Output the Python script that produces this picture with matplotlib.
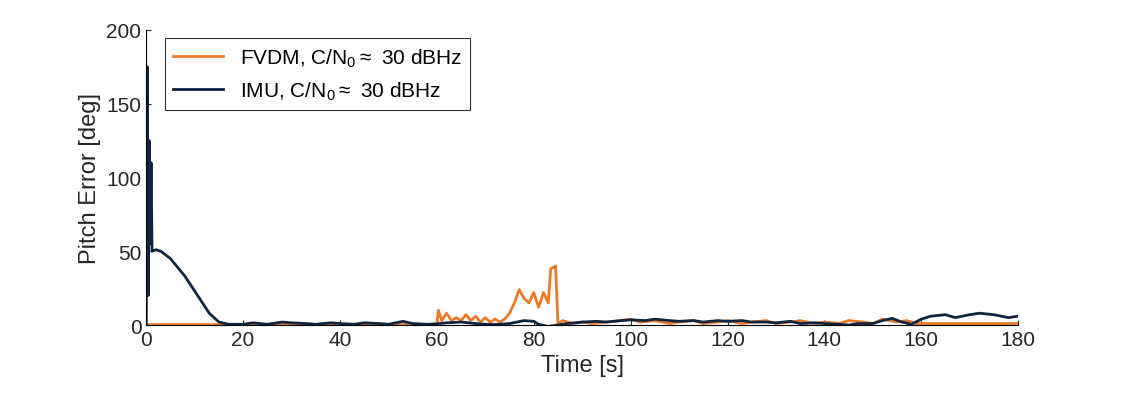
import matplotlib.pyplot as plt
import numpy as np

plt.rcParams['font.family'] = ['Liberation Sans', 'DejaVu Sans']
plt.rcParams['mathtext.fontset'] = 'custom'
plt.rcParams['mathtext.rm'] = 'Liberation Sans'

# IMU pitch error samples (time [s], error [deg])
imu_t = [0, 0.2, 0.4, 0.6, 0.8, 1.0, 1.2, 2, 3, 5, 8, 11, 13, 15, 17, 20, 22, 25, 28, 30,
         33, 35, 38, 40, 43, 45, 48, 50, 53, 55, 58, 60, 62, 65, 68, 70, 72, 75, 78, 80,
         81, 83, 85, 87, 90, 93, 95, 98, 100, 103, 105, 108, 110, 113, 115, 118, 120, 123,
         125, 128, 130, 133, 135, 138, 140, 143, 145, 147, 150, 152, 154, 156, 158, 160,
         162, 165, 167, 170, 172, 175, 178, 180]
imu_e = [0, 175, 20, 125, 55, 110, 50, 51, 50, 45, 33, 18, 8, 2, 0.5, 0.5, 1.5, 0.5, 2, 1.5,
         1, 0.5, 1.5, 1, 0.5, 1.5, 1, 0.5, 2.5, 1, 0.5, 0.8, 1.5, 2, 1, 0.5, 0.3, 1, 3, 2.5,
         0.5, -1, 0, 1, 2, 2.5, 2, 3, 3.5, 3, 4, 3, 2.5, 3, 2, 3, 2.5, 3,
         2, 2, 1.5, 2.5, 1, 1.5, 1, 0.5, 0, 1, 1, 3, 4.5, 2, 0.5, 4,
         6, 7, 5, 7, 8, 7, 5, 6]

# FVDM pitch error samples
fvdm_t = [0, 60, 60.3, 61, 62, 63, 64, 65, 66, 67, 68, 69, 70, 71, 72, 73, 74, 75, 76, 77,
          78, 79, 80, 81, 82, 83, 83.5, 84.5, 85, 86, 88, 90, 92, 95, 98, 100, 102, 105, 108,
          110, 113, 115, 118, 120, 123, 125, 128, 130, 133, 135, 138, 140, 143, 145, 148,
          150, 152, 155, 157, 159, 160, 180]
fvdm_e = [0.3, 0.3, 10, 3, 8, 3, 5, 3, 7, 3, 6, 2, 5, 2, 4, 2, 4, 8, 15, 24,
          18, 15, 22, 12, 22, 15, 38, 40, 1, 3, 1, 2, 1, 2, 3, 4, 2, 3, 1,
          2, 3, 1, 2, 3, 1, 2, 3, 1, 2, 3, 1, 2, 1, 3, 2,
          1, 4, 2, 3, 1, 1, 1]

fig = plt.figure(figsize=(11.25, 4.06), dpi=100)
ax = fig.add_axes([0.13, 0.197, 0.775, 0.727])
ax.plot(fvdm_t, fvdm_e, color='#EA7A28', linewidth=2, label=r'FVDM, C/N$_0\approx$ 30 dBHz')
ax.plot(imu_t, imu_e, color='#0E2541', linewidth=2, label=r'IMU, C/N$_0\approx$ 30 dBHz')

ax.set_xlim(0, 180)
ax.set_ylim(0, 200)
ax.set_xticks(np.arange(0, 181, 20))
ax.set_yticks(np.arange(0, 201, 50))
ax.tick_params(labelsize=15, direction='in', colors='#262626')
ax.set_xlabel('Time [s]', fontsize=17, color='#262626')
ax.set_ylabel('Pitch Error [deg]', fontsize=17, color='#262626')
ax.spines['top'].set_visible(False)
ax.spines['right'].set_visible(False)
leg = ax.legend(loc='upper left', fontsize=15, frameon=True, fancybox=False,
                edgecolor='black', borderaxespad=0.4, handlelength=2.4,
                bbox_to_anchor=(0.012, 1.0))
leg.get_frame().set_linewidth(0.8)

plt.savefig('out.png', dpi=100)
